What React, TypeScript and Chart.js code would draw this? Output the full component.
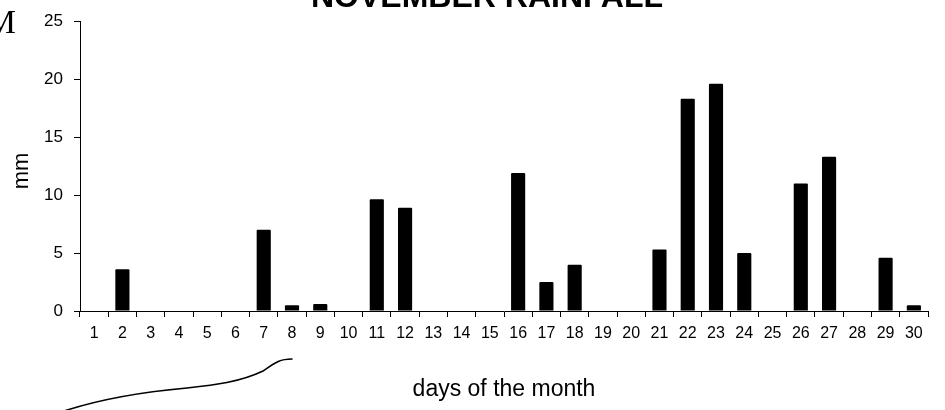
import React, { useEffect, useRef } from "react";
import { Chart, registerables } from "chart.js";

Chart.register(...registerables);

const days: string[] = [
  "1", "2", "3", "4", "5", "6", "7", "8", "9", "10",
  "11", "12", "13", "14", "15", "16", "17", "18", "19", "20",
  "21", "22", "23", "24", "25", "26", "27", "28", "29", "30",
];

const rainfallMm: number[] = [
  0, 3.6, 0, 0, 0, 0, 7.0, 0.5, 0.6, 0,
  9.65, 8.9, 0, 0, 0, 11.9, 2.5, 4.0, 0, 0,
  5.3, 18.3, 19.6, 5.0, 0, 11.0, 13.3, 0, 4.6, 0.5,
];

const yTicks: number[] = [0, 5, 10, 15, 20, 25];

const chartTitle = "NOVEMBER RAINFALL";
const yTitle = "mm";
const xTitle = "days of the month";

const SANS = "'Liberation Sans', Arial, sans-serif";

const decorPlugin = {
  id: "decor",
  afterDraw(chart: any) {
    const ctx = chart.ctx;
    ctx.save();
    ctx.fillStyle = "#000";
    // main title (cropped at top in reference)
    ctx.font = `bold 32px ${SANS}`;
    ctx.textAlign = "center";
    ctx.textBaseline = "alphabetic";
    ctx.fillText(chartTitle, 487, 7);
    // y-axis title
    ctx.save();
    ctx.translate(28, 171);
    ctx.rotate(-Math.PI / 2);
    ctx.font = `22px ${SANS}`;
    ctx.textAlign = "center";
    ctx.textBaseline = "alphabetic";
    ctx.fillText(yTitle, 0, 0);
    ctx.restore();
    // stray serif letter at top-left
    ctx.font = `34px 'Liberation Serif', 'Times New Roman', serif`;
    ctx.textAlign = "right";
    ctx.textBaseline = "alphabetic";
    ctx.fillText("M", 16, 33);
    // hand-drawn pen stroke at bottom-left
    ctx.strokeStyle = "#000";
    ctx.lineWidth = 1.6;
    ctx.lineJoin = "round";
    ctx.lineCap = "round";
    ctx.beginPath();
    ctx.moveTo(58, 413);
    ctx.bezierCurveTo(90, 402, 130, 393, 187, 388);
    ctx.bezierCurveTo(215, 385, 240, 382, 263, 371);
    ctx.bezierCurveTo(276, 362, 280, 359, 292, 359);
    ctx.stroke();
    ctx.restore();
  },
};

export default function App() {
  const canvasRef = useRef<HTMLCanvasElement | null>(null);

  useEffect(() => {
    const canvas = canvasRef.current;
    if (!canvas) return;
    const chart = new Chart(canvas, {
      type: "bar",
      data: {
        labels: days,
        datasets: [
          {
            label: "Rainfall (mm)",
            data: rainfallMm,
            backgroundColor: "#000",
            borderWidth: 0,
            borderRadius: 1,
            categoryPercentage: 1,
            barPercentage: 0.5,
          },
        ],
      },
      options: {
        animation: false,
        responsive: false,
        devicePixelRatio: 1,
        layout: { padding: { left: 0, right: 17, top: 16, bottom: 0 } },
        plugins: {
          legend: { display: false },
          tooltip: { enabled: false },
          title: { display: false },
        },
        scales: {
          x: {
            offset: true,
            grid: {
              offset: true,
              drawOnChartArea: false,
              drawTicks: true,
              tickLength: 6,
              color: "#000",
              lineWidth: 1,
            },
            border: { display: true, color: "#000", width: 1 },
            ticks: {
              autoSkip: false,
              maxRotation: 0,
              minRotation: 0,
              padding: 7,
              color: "#000",
              font: { family: SANS, size: 16 },
            },
            title: {
              display: true,
              text: xTitle,
              color: "#000",
              font: { family: SANS, size: 23 },
              padding: { top: 0, bottom: 7 },
            },
            afterFit: (s: any) => {
              s.height = 99;
            },
          },
          y: {
            min: 0,
            max: 25,
            afterBuildTicks: (s: any) => {
              s.ticks = yTicks.map((v) => ({ value: v }));
            },
            grid: {
              drawOnChartArea: false,
              drawTicks: true,
              tickLength: 6,
              color: "#000",
              lineWidth: 1,
            },
            border: { display: true, color: "#000", width: 1 },
            ticks: {
              padding: 11,
              color: "#000",
              font: { family: SANS, size: 17 },
            },
            afterFit: (s: any) => {
              s.width = 80;
            },
          },
        },
      },
      plugins: [decorPlugin],
    });
    return () => chart.destroy();
  }, []);

  return (
    <div style={{ position: "fixed", left: 0, top: 0, width: 945, height: 410, background: "#fff" }}>
      <canvas ref={canvasRef} width={945} height={410} style={{ width: 945, height: 410, display: "block" }} />
    </div>
  );
}
